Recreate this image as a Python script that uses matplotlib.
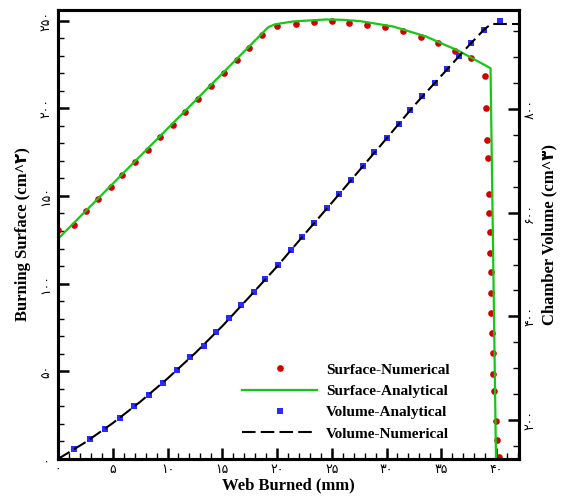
import matplotlib
matplotlib.use("Agg")
import matplotlib.pyplot as plt
from matplotlib.lines import Line2D
from matplotlib.ticker import MultipleLocator, FixedLocator

# ---- data ----
surf_num_x = [0.0, 1.46, 2.52, 3.64, 4.8, 5.89, 7.04, 8.2, 9.35, 10.47, 11.63, 12.78, 13.96,
              15.18, 16.33, 17.48, 18.6, 20.0, 21.7, 23.34, 24.98, 26.62, 28.26, 29.9, 31.53,
              33.11, 34.68, 36.27, 37.72, 39.03, 39.13, 39.22, 39.28, 39.33, 39.4, 39.42, 39.45,
              39.5, 39.55, 39.57, 39.64, 39.69, 39.77, 39.85, 39.97, 40.06, 40.24]
surf_num_y = [130.8, 133.4, 141.2, 148.3, 155.3, 162.2, 169.2, 176.4, 183.8, 190.7, 198.1, 205.1,
              212.6, 220.2, 227.4, 234.6, 241.7, 246.8, 248.2, 249.1, 249.7, 248.5, 247.4, 246.1,
              243.8, 240.5, 237.1, 232.5, 228.5, 218.5, 200.4, 181.6, 171.7, 151.1, 140.5, 129.2,
              117.6, 106.4, 94.6, 83.0, 71.6, 60.2, 48.7, 38.5, 21.7, 10.7, 1.2]

surf_ana_x = [0.0, 19.2, 19.8, 21.5, 24.5, 26.0, 27.55, 30.6, 33.6, 36.66, 39.5, 40.0]
surf_ana_y = [125.5, 246.2, 247.8, 249.5, 250.6, 250.4, 249.7, 246.6, 240.9, 232.5, 222.8, 0.0]

vol_ana_x = [0.0, 1.46, 2.91, 4.28, 5.64, 6.95, 8.28, 9.56, 10.87, 12.08, 13.33, 14.47, 15.63,
             16.75, 17.88, 18.94, 20.09, 21.25, 22.3, 23.4, 24.55, 25.64, 26.74, 27.83, 28.86,
             30.01, 31.1, 32.17, 33.26, 34.41, 35.54, 36.66, 37.75, 38.9, 40.33]
vol_ana_y = [124.8, 144.5, 162.8, 182.7, 203.9, 227.7, 248.3, 272.0, 296.6, 321.0, 343.4, 369.9,
             396.3, 421.4, 447.0, 472.2, 498.5, 527.5, 553.7, 580.8, 608.5, 635.5, 662.6, 689.6,
             717.2, 743.6, 770.6, 798.2, 824.6, 849.7, 877.3, 902.4, 928.0, 953.0, 969.3]

vol_num_x = [0.0, 2.5, 5.0, 7.5, 10.0, 12.5, 15.0, 17.5, 20.0, 22.5, 25.0, 27.5, 30.0, 32.5,
             35.0, 37.5, 38.9, 39.55, 42.2]
vol_num_y = [124.8, 157.0, 194.0, 235.0, 280.0, 328.5, 381.0, 438.0, 496.0, 558.0, 619.0, 681.0,
             743.0, 806.0, 864.0, 922.0, 953.0, 964.0, 964.0]

x_ticks = [0, 5, 10, 15, 20, 25, 30, 35, 40]
x_tick_labels = ['۰', '۵', '۱۰', '۱۵', '۲۰', '۲۵', '۳۰', '۳۵', '۴۰']
yl_ticks = [0, 50, 100, 150, 200, 250]
yl_tick_labels = ['۰', '۵۰', '۱۰۰', '۱۵۰', '۲۰۰', '۲۵۰']
yr_ticks = [200, 400, 600, 800]
yr_tick_labels = ['۲۰۰', '۴۰۰', '۶۰۰', '۸۰۰']

labels = ['Surface-Numerical', 'Surface-Analytical', 'Volume-Analytical', 'Volume-Numerical']

# ---- style ----
RED = '#d40000'
GREEN = '#14c814'
BLUE = '#2a2aff'
serif = ['Liberation Serif', 'DejaVu Sans']
tickfont = ['DejaVu Sans']

fig = plt.figure(figsize=(5.63, 4.98), dpi=100)
ax = fig.add_axes([58/563, 39/498, 461/563, 449/498])
ax2 = ax.twinx()

ax.plot(surf_num_x, surf_num_y, linestyle='none', marker='o', ms=4.8, color=RED,
        markeredgewidth=0, zorder=2)
ax.plot(surf_ana_x, surf_ana_y, color=GREEN, lw=1.6, zorder=3)
ax2.plot(vol_ana_x, vol_ana_y, linestyle='none', marker='s', ms=3.8, color=BLUE,
         markeredgewidth=0, zorder=2)
ax2.plot(vol_num_x, vol_num_y, color='black', lw=1.5, dashes=(6.5, 2.5), zorder=3)

ax.set_xlim(0, 42.1)
ax.set_ylim(0, 256)
ax2.set_ylim(124.8, 991)

ax.xaxis.set_major_locator(FixedLocator(x_ticks))
ax.set_xticklabels(x_tick_labels, family=tickfont, fontsize=9)
ax.xaxis.set_minor_locator(MultipleLocator(1))
ax.yaxis.set_major_locator(FixedLocator(yl_ticks))
ax.set_yticklabels(yl_tick_labels, family=tickfont, fontsize=9, rotation=90, va='center')
ax.yaxis.set_minor_locator(MultipleLocator(10))
ax2.yaxis.set_major_locator(FixedLocator(yr_ticks))
ax2.set_yticklabels(yr_tick_labels, family=tickfont, fontsize=9, rotation=90, va='center')
ax2.yaxis.set_minor_locator(MultipleLocator(50))

for a in (ax, ax2):
    for s in a.spines.values():
        s.set_linewidth(2.2)
ax.tick_params(axis='both', which='major', direction='in', length=8, width=1.8, pad=4,
               top=False, right=False)
ax.tick_params(axis='both', which='minor', direction='in', length=4.5, width=1.0,
               top=False, right=False)
ax.tick_params(axis='x', which='major', pad=3)
ax2.tick_params(axis='y', which='major', direction='in', length=8, width=1.8, pad=3)
ax2.tick_params(axis='y', which='minor', direction='in', length=4.5, width=1.0)

ax.set_xlabel('Web Burned (mm)', family=serif, fontweight='bold', fontsize=12, labelpad=1)
ax.set_ylabel('Burning Surface (cm^۲)', family=serif, fontweight='bold', fontsize=12, labelpad=6)
ax2.set_ylabel('Chamber Volume (cm^۳)', family=serif, fontweight='bold', fontsize=12,
               rotation=90, labelpad=4)

handles = [
    Line2D([], [], linestyle='none', marker='o', ms=4.8, color=RED, markeredgewidth=0),
    Line2D([], [], color=GREEN, lw=1.6),
    Line2D([], [], linestyle='none', marker='s', ms=3.8, color=BLUE, markeredgewidth=0),
    Line2D([], [], color='black', lw=1.5, dashes=(6.5, 2.5)),
]
leg = ax2.legend(handles, labels, loc='center', bbox_to_anchor=(0.625, 0.127),
                 frameon=False, handlelength=4.9, handletextpad=0.6, labelspacing=0.5,
                 prop={'family': serif, 'weight': 'bold', 'size': 11})

fig.savefig('out.png', dpi=100)
